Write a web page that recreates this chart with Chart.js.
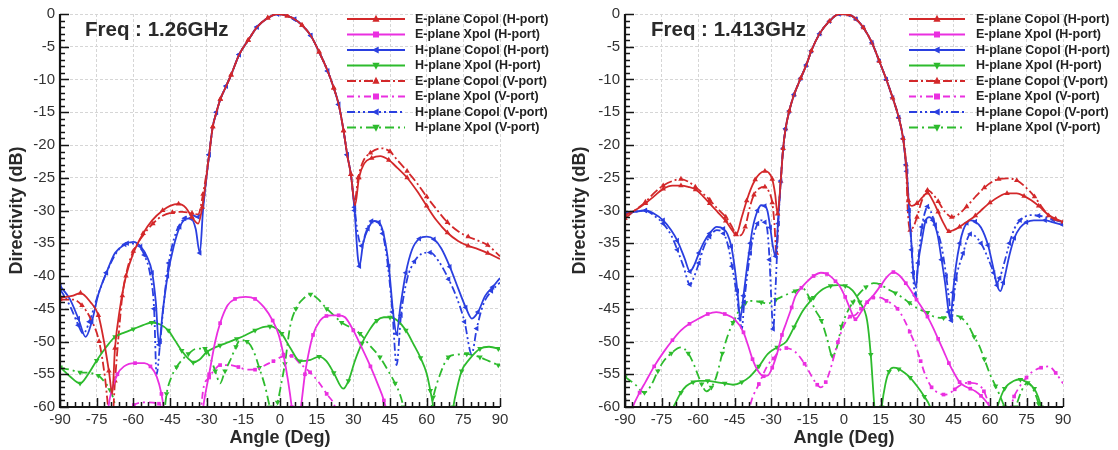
<!DOCTYPE html>
<html>
<head>
<meta charset="utf-8">
<script src="https://cdn.jsdelivr.net/npm/chart.js@4.4.0/dist/chart.umd.min.js"></script>
<style>
  html, body { margin: 0; padding: 0; background: #fff; }
  #wrap { width: 1118px; height: 450px; display: flex; }
  canvas { display: block; }
</style>
</head>
<body>
<div id="wrap">
  <canvas id="c126" width="559" height="450"></canvas>
  <canvas id="c1413" width="559" height="450"></canvas>
</div>
<script>
// ---- data: [angle (deg), directivity (dB)] ----
const seriesNames = [
    'E-plane Copol (H-port)', 'E-plane Xpol (H-port)', 'H-plane Copol (H-port)', 'H-plane Xpol (H-port)',
    'E-plane Copol (V-port)', 'E-plane Xpol (V-port)', 'H-plane Copol (V-port)', 'H-plane Xpol (V-port)'
];
const xTicks = [-90, -75, -60, -45, -30, -15, 0, 15, 30, 45, 60, 75, 90];
const yTicks = [-60, -55, -50, -45, -40, -35, -30, -25, -20, -15, -10, -5, 0];

// 1.26 GHz
const beam126 = [[-29,-21.5],[-27.5,-17.2],[-26,-15],[-24.4,-13],[-22,-11],[-20,-9.3],[-16.7,-6.2],[-13,-4],[-9.4,-2],[-5,-0.6],[-1,0],[3,-0.3],[6,-0.8],[9,-1.7],[12.6,-3.3],[16,-5.8],[19.5,-8.7],[22,-11.3],[24,-13.8],[26,-17.8],[27.5,-21.5]];
const eCoH126L = [[-90,-43.3],[-84.6,-43],[-81.6,-42.6],[-77.5,-44],[-74.3,-46],[-72,-50],[-70,-54.5],[-68.6,-58],[-67.5,-51],[-65.5,-45],[-63,-40],[-60,-36.5],[-56,-33.5],[-52.3,-31.5],[-48,-30],[-45,-29.3],[-41.5,-29],[-38.5,-29.6],[-36,-31],[-33.5,-32],[-31.8,-29.5]];
const eCoH126R = [[29,-24.5],[30.7,-29.2],[32.3,-25],[34.5,-22.8],[37.5,-22],[41,-21.7],[44.5,-22.3],[48,-23.5],[52,-25],[56,-27],[60,-29.3],[64,-31.5],[68.5,-33.4],[73,-34.7],[77,-35.4],[81,-35.9],[85,-36.5],[90,-37.4]];
const eCoV126L = [[-90,-43.6],[-84.6,-43.6],[-81,-44.5],[-77.5,-46.5],[-74,-50],[-71.6,-55.5],[-70,-61],[-68.8,-63],[-67.5,-56],[-66,-49],[-64.5,-43],[-62.5,-39],[-60,-36.2],[-56,-33.8],[-52,-32],[-48,-30.8],[-44,-30.3],[-40,-30.2],[-36,-30.4],[-33.5,-30.6],[-31.5,-27.5]];
const eCoV126R = [[29,-24.5],[30.5,-28.6],[32,-25],[34,-22.5],[37,-21.2],[41.5,-20.5],[45,-21],[48,-22.3],[52,-24],[56,-25.8],[60,-27.9],[64,-29.8],[68.5,-31.8],[73,-33.2],[77,-34],[81,-34.6],[85,-35.3],[90,-37]];
const hCoH126L = [[-90,-41.5],[-86,-43.5],[-82.5,-46.5],[-79.5,-49.3],[-77,-47],[-74.3,-42.8],[-71,-39.5],[-67.5,-36.5],[-63.5,-35.2],[-60,-34.8],[-57,-35.5],[-54.5,-37],[-52.3,-39.5],[-50.8,-44],[-49.5,-50.5],[-48,-45.5],[-46,-40],[-43.5,-35.5],[-41,-32.5],[-38.5,-31.3],[-36.5,-31.2],[-34.5,-32.8],[-32.8,-36.5],[-31.5,-30]];
const hCoH126R = [[29,-24.5],[30.5,-30],[31.8,-37],[32.5,-38.5],[34,-35],[36,-32.8],[38.5,-31.6],[40.5,-31.8],[42.5,-33.8],[44.5,-38.5],[46.4,-46],[47.7,-48.8],[49.3,-44.5],[51.5,-39.5],[54,-36],[57,-34.3],[60,-34],[63,-34.4],[66,-35.8],[69.5,-38.6],[73,-42],[76,-44.8],[78.5,-46.5],[81,-45.5],[84,-43],[87,-41.7],[90,-40.3]];
const hCoV126L = [[-90,-42],[-86,-44.5],[-82.5,-47.5],[-80.5,-48.8],[-78,-47],[-75,-43.5],[-71,-39.5],[-67,-36.5],[-62.5,-35],[-58.5,-35.3],[-55.5,-36.8],[-53,-40],[-51.5,-45],[-50.5,-55],[-49,-50],[-47.5,-44],[-45.5,-38],[-42.5,-33.3],[-39,-31.2],[-36,-30.7],[-33.5,-31],[-31.5,-29]];
const hCoV126R = [[29,-24.5],[30.5,-29.5],[31.8,-33.5],[33.4,-35.4],[35,-33.5],[37.5,-31.6],[40,-31.8],[42,-33.5],[44,-38],[46,-45.5],[47.7,-53.6],[49.5,-46],[52,-40.5],[55,-37.8],[58,-36.6],[61.4,-36.4],[65,-37.8],[69,-40.5],[72.5,-43.5],[75.5,-47],[78.4,-51.9],[80.5,-48],[83.2,-44.3],[86.5,-42.3],[90,-41]];
const eXH126 = [[-90,-72],[-74,-68],[-71,-62],[-69.5,-58.5],[-66.5,-55],[-63.8,-53.8],[-59.3,-53.3],[-55.5,-53.3],[-53,-53.8],[-50.4,-55.4],[-48.5,-58],[-47,-61.5],[-44,-67],[-36,-69],[-32.5,-63],[-31,-59],[-29,-55],[-26.5,-50],[-24.5,-47.2],[-21.5,-44.5],[-18.4,-43.5],[-14,-43.2],[-10.2,-43.5],[-6.5,-44.8],[-3,-46.8],[-0.5,-49],[1.4,-52],[3.3,-56],[4.8,-60],[6,-64],[7.5,-63],[8.9,-59],[10.2,-55],[11.6,-52],[13.5,-49],[16.4,-46.8],[19,-46.1],[21.2,-46],[24,-46],[26.6,-46.3],[30,-48.3],[33.4,-50.9],[37,-53.8],[40.2,-56.7],[42.5,-59],[44.5,-62],[48,-68],[90,-72]];
const eXV126 = [[-90,-72],[-68,-68],[-64,-63],[-62,-60.8],[-59.8,-59.7],[-55,-59.3],[-49.5,-59.5],[-47.5,-61],[-45,-66],[-38,-69],[-33,-63],[-31.4,-57.3],[-29,-55.5],[-26.5,-54.2],[-24.5,-53.6],[-20.5,-53.6],[-17,-53.9],[-13.5,-54.3],[-10.2,-54.3],[-6.5,-53.7],[-2.7,-53],[1,-52.3],[4.8,-52.2],[8,-53.3],[12.3,-54.7],[16,-56.3],[19.1,-58],[22.5,-60],[25,-64],[30,-70],[90,-72]];
const hXH126 = [[-90,-53.9],[-86,-55.3],[-81.8,-56.4],[-78.5,-55],[-75,-52.9],[-71,-50.8],[-67.5,-49.3],[-63.5,-48.6],[-60,-48.1],[-56,-47.5],[-52.5,-47.1],[-49,-47.4],[-45.7,-48.3],[-43,-49.8],[-40.2,-51.4],[-37.5,-52.6],[-35.5,-53.2],[-33,-52.8],[-30,-51.6],[-27,-51],[-24.5,-50.6],[-21,-50.1],[-17.7,-49.6],[-14,-49],[-10.2,-48.3],[-7,-47.8],[-4.1,-47.7],[-1.5,-48],[0.7,-48.8],[4.1,-50.9],[8.2,-53],[12.5,-52.8],[16,-52.3],[19,-53],[22,-54.8],[25.9,-57.2],[28,-56],[30.7,-52.9],[33.5,-50.3],[36.5,-48.3],[39.6,-46.8],[42.5,-46.3],[45,-46.3],[48,-46.8],[51.5,-48.3],[54.6,-50.4],[57.5,-52.5],[60,-54.9],[61.5,-57.5],[62.7,-60],[64.5,-66],[69,-66],[70.9,-60],[72.5,-57],[74.3,-54.5],[77.5,-52.7],[81.8,-51.1],[85.5,-50.8],[89.3,-51.1],[90,-51.2]];
const hXV126 = [[-90,-54],[-86,-54.3],[-81.8,-54.7],[-78,-54.8],[-74.3,-55.2],[-71.5,-56.3],[-69.5,-57.4],[-67.5,-59.7],[-66,-63],[-60,-68],[-52,-68],[-48,-63],[-46.4,-58],[-44.5,-55.5],[-42.3,-53.9],[-39.5,-52.6],[-37.5,-51.9],[-34.1,-51.1],[-30.7,-51.1],[-28.5,-52.5],[-26.5,-54.5],[-24.5,-56.4],[-22.5,-54.5],[-20.4,-52.9],[-18,-50.8],[-16.4,-49.8],[-13.5,-50],[-10.9,-51.4],[-8.5,-54],[-6,-57],[-4.1,-60],[-2.5,-61],[-1,-59.3],[0.5,-56.5],[2,-53.4],[4.1,-47.8],[6.5,-45],[9.5,-43.5],[12.5,-42.8],[15.5,-43.5],[19.1,-45],[22,-46],[25.2,-47.1],[29,-47.9],[32.7,-48.8],[36.5,-50.5],[40.9,-52.4],[44,-54.3],[47.1,-56.4],[49,-58],[50.5,-60],[53,-65],[58,-66],[61,-62],[62.7,-58.5],[65.5,-55],[68.9,-52.4],[72.5,-52],[76.4,-51.9],[79,-52.1],[81.8,-52.4],[85.5,-53],[89.3,-53.6],[90,-53.7]];

// 1.413 GHz
const beam1413 = [[-26,-25.5],[-25,-20.5],[-24,-17.5],[-22.5,-14.8],[-20.5,-12.3],[-17.8,-9.8],[-15.5,-7.8],[-13.4,-5.6],[-10,-3],[-6,-1.1],[-2,0],[2,-0.1],[5,-0.8],[8,-2.1],[11.5,-4.4],[14.5,-7.2],[17.4,-10],[20,-12.8],[22.5,-15.8],[24.3,-19],[25.5,-23]];
const eCoH1413L = [[-90,-30.7],[-86,-30],[-81.6,-28.9],[-78,-27.8],[-74.3,-26.7],[-70.5,-26.2],[-67,-26.2],[-64,-26.4],[-61,-26.8],[-58,-27.8],[-55.2,-28.9],[-52,-30.2],[-48.6,-31.6],[-46,-33],[-44.3,-33.7],[-42,-31],[-40,-28.5],[-38.4,-26.8],[-36.5,-25.3],[-34.7,-24.4],[-32.5,-24],[-31,-24.2],[-29.5,-25.2],[-28.3,-27.5],[-27.3,-30.5]];
const eCoH1413R = [[26.5,-28.5],[28,-29.3],[30,-28.9],[32.2,-28],[34.3,-27.3],[36.5,-28.5],[38.7,-30.2],[41,-32],[43.1,-33.2],[45,-33],[47.5,-32.5],[51,-31.6],[54,-30.8],[56.3,-30],[60,-28.8],[63.6,-27.9],[67,-27.4],[71,-27.4],[74,-27.8],[76.8,-28.4],[80,-29.3],[84.1,-30.7],[87,-31.3],[90,-31.7]];
const eCoV1413L = [[-90,-31.2],[-86,-30],[-81.6,-28.7],[-78,-27.3],[-74.3,-26.2],[-70.5,-25.5],[-67,-25.2],[-64,-25.6],[-61.1,-26.4],[-58,-27.4],[-55.2,-28.4],[-52,-29.7],[-48.6,-31],[-46,-32.5],[-44.5,-33.6],[-42.5,-33.8],[-40.6,-32.5],[-38.7,-29.5],[-37,-27.6],[-34.7,-26.6],[-32.5,-26.4],[-31,-27],[-29.5,-28.8],[-28.6,-32],[-27.8,-36.5],[-27,-31]];
const eCoV1413R = [[26.2,-30],[27.2,-33],[28.5,-32.5],[30,-31],[32,-28.5],[34.3,-26.9],[36.5,-27.5],[38.7,-28.6],[41.5,-30.2],[44.3,-31],[47,-30.6],[50.4,-29.4],[54,-27.9],[57.7,-26.5],[61,-25.6],[63.6,-25.2],[67,-25.1],[71,-25.4],[74.5,-26.4],[78.3,-27.9],[81,-29.3],[84.1,-30.8],[87,-31.4],[90,-31.8]];
const hCoH1413L = [[-90,-30.5],[-86,-30.2],[-81.6,-30],[-78,-30.5],[-74.3,-31.5],[-71,-33],[-68.5,-34.6],[-65.5,-37.3],[-63.3,-39.3],[-61.5,-38.3],[-59.6,-36.5],[-57.5,-34.8],[-55.2,-33.5],[-52.3,-32.5],[-49.5,-32.8],[-47.9,-33.6],[-46.3,-35.5],[-45,-38.5],[-43.8,-42.3],[-42.6,-46.4],[-41.3,-43],[-39.8,-38.5],[-38.5,-35],[-37.6,-32.8],[-35.5,-30],[-34,-29.2],[-32.5,-29.3],[-31.5,-30],[-30.3,-32.6],[-29.2,-35.5],[-28.1,-37],[-27,-31]];
const hCoH1413R = [[25.8,-24],[26.8,-30],[27.8,-35.5],[28.5,-39.5],[29.6,-41.6],[30.5,-38],[32,-34.5],[33.5,-31.6],[35,-31],[36.5,-31.5],[38.5,-33.8],[40.1,-37.5],[41.7,-41.5],[43,-45.5],[43.8,-46.6],[44.8,-42.5],[46,-38.5],[47.6,-35],[49,-33],[50.5,-31.9],[52,-31.5],[54,-31.7],[56.3,-32.6],[59.2,-35.3],[61.2,-38.5],[62.9,-41.4],[64.3,-42.3],[65.5,-41],[68,-36.8],[70,-34.2],[72.4,-32.6],[75,-31.8],[78,-31.5],[82.7,-31.5],[86,-31.8],[90,-32.2]];
const hCoV1413L = [[-90,-30.5],[-86,-30.2],[-81.6,-30],[-78,-30.8],[-74.3,-32],[-71,-33.8],[-68.5,-36],[-66,-38.5],[-63.3,-41.3],[-61.5,-40],[-59.6,-38],[-57.5,-35.5],[-55.2,-34],[-52.3,-33],[-49.5,-33.5],[-47.9,-35],[-46,-38.5],[-44.2,-42.6],[-42.8,-46.5],[-42,-48.1],[-41,-44],[-39.8,-40],[-38.5,-36.5],[-37.6,-34.5],[-35.5,-32],[-34,-31.5],[-32.5,-31.8],[-31.5,-33],[-30.6,-37.5],[-30,-42.6],[-29.1,-48.1],[-28.1,-41.6],[-27,-32]];
const hCoV1413R = [[25.8,-24],[26.8,-30],[27.8,-36],[28.5,-40.5],[29.3,-43],[30.3,-38.5],[32,-32.5],[33.5,-30],[34.3,-29.4],[35.5,-30],[37.5,-32.2],[40.1,-35.5],[42,-40],[43.3,-44],[44.1,-46.8],[45,-44],[46,-40.5],[47.5,-38.2],[49,-36.5],[50.5,-34.5],[51.9,-33.6],[53.5,-33.8],[56.3,-35],[59.2,-37.3],[61.5,-39.5],[62.9,-41],[64,-40.3],[66,-37.8],[68,-35],[70,-32.8],[72.4,-31.5],[76.8,-30.7],[80,-30.8],[82.7,-31],[86,-31.4],[90,-31.8]];
const eXH1413 = [[-90,-64],[-86.8,-60],[-84,-57.8],[-81.6,-56.2],[-78,-53.8],[-74.3,-51.7],[-70.5,-49.8],[-67,-48.3],[-63.5,-47.3],[-59.6,-46.5],[-56,-45.8],[-52.5,-45.5],[-49,-45.8],[-45,-46.6],[-41.3,-48.6],[-39.5,-50.5],[-37.6,-52.7],[-35.5,-54.4],[-33,-55.3],[-31.3,-55.2],[-29.5,-54],[-27.4,-51.7],[-25.5,-49],[-23.7,-47.1],[-21.5,-44.8],[-20,-43.1],[-17.5,-41.8],[-15.6,-41],[-12.5,-40],[-9.5,-39.5],[-7,-39.7],[-5.4,-40.1],[-3.5,-40.8],[-1.7,-41.6],[0.5,-43.2],[2.5,-45],[4.7,-46.6],[7,-45.5],[9.5,-44],[12,-43],[15,-41.5],[17.5,-40.2],[20.3,-39.4],[23,-40],[25.4,-41.1],[27.5,-42.2],[29.8,-43.6],[32,-44.8],[34.3,-46.2],[36.5,-47.8],[38.7,-49.6],[41,-51.5],[43.1,-53.3],[45.5,-55],[47.5,-56.2],[49.5,-56.8],[51.9,-57.2],[54,-57.6],[56.3,-58.3],[58.5,-59.2],[60.7,-60.5],[63,-63],[70,-66],[90,-68]];
const eXV1413 = [[-90,-70],[-44,-68],[-40,-62],[-38,-59],[-35,-56.5],[-31.3,-53.6],[-29,-52.6],[-26,-51.2],[-23.7,-51],[-20,-51.6],[-16.2,-53.4],[-13,-55.5],[-11,-56.6],[-9.5,-57],[-7.5,-56.2],[-5.4,-54],[-2.5,-50.1],[0,-47.5],[2.5,-46.2],[4.5,-46],[7,-45],[9.5,-44],[12,-43.3],[15,-43.3],[17.5,-43.8],[19.6,-44.2],[22,-45],[24.5,-46.5],[27,-48.5],[29.5,-50.7],[31.5,-53],[33.4,-55.1],[36,-57],[38.5,-57.8],[40.9,-58.1],[43,-58],[45.5,-57.3],[48.5,-56.5],[51.5,-56.3],[55.4,-56.6],[57.5,-57.6],[59.5,-59.5],[61.5,-61.5],[64,-62.5],[66.5,-61.5],[68.5,-60],[69.9,-58.4],[72,-57],[75,-55.5],[77.5,-54.6],[81,-54],[84.3,-53.8],[87,-54.8],[90,-56.4]];
const hXH1413 = [[-90,-68],[-75,-65],[-71.5,-61],[-69.4,-59.5],[-67,-57.8],[-64.8,-56.8],[-62,-56.2],[-59.3,-56],[-56,-56],[-52.5,-56.2],[-49,-56.4],[-45.6,-56.6],[-42,-56.2],[-38.8,-55.4],[-35,-53.8],[-31.3,-51.9],[-27.5,-50.9],[-23.7,-50],[-20.5,-47.8],[-16.9,-45.3],[-12.5,-43.3],[-8.6,-42],[-5.5,-41.5],[-2.5,-41.4],[0.5,-41.5],[3.5,-42.2],[6.5,-44],[9.5,-46.8],[11,-52],[12.3,-59],[13.5,-64],[14.5,-64],[15.5,-60],[17,-56.5],[18.5,-54.6],[20.3,-54],[22.5,-54.2],[25,-54.8],[27.2,-55.5],[30,-56.8],[33,-58.4],[35.4,-60],[38,-64],[50,-68],[60,-64],[63,-60],[66,-57.2],[69.9,-56],[72.5,-55.8],[75,-56.2],[78.2,-57.2],[79.8,-58.5],[81,-60],[83,-64],[90,-68]];
const hXV1413 = [[-90,-55.4],[-86,-56.5],[-82,-57.8],[-79,-56.5],[-76.5,-54.5],[-74.3,-53.1],[-71,-51.8],[-67.1,-50.9],[-64,-51.8],[-61.5,-53.7],[-58.5,-56.5],[-56.6,-57.6],[-54.5,-57],[-52.5,-55.4],[-50,-51.8],[-47.5,-48.8],[-45.6,-47.1],[-43,-45.2],[-40.5,-44.1],[-37.6,-43.8],[-34,-44],[-31.3,-44.2],[-28,-43.6],[-24,-42.9],[-20,-42.3],[-16.9,-41.9],[-14,-43.5],[-11.5,-45.4],[-9.3,-46.8],[-7,-49.5],[-4.8,-52.2],[-3,-51],[-1,-47.7],[1.5,-45.4],[3.7,-44],[6,-42.8],[9,-41.7],[12.2,-41.1],[15,-41.3],[18,-42],[21.1,-42.6],[24,-43.3],[26.9,-44.1],[30.5,-45],[34.3,-45.6],[37,-46.2],[40.9,-46.4],[44.5,-46],[47.9,-46.3],[51,-47.5],[53.5,-49.3],[55.4,-50.5],[57.7,-52.7],[60,-55],[62.3,-56.8],[64,-58.2],[66,-60],[68,-61.5],[70.5,-60],[73,-57.5],[75.5,-56.3],[78,-57.5],[80,-59.5],[82,-62],[90,-68]];

// ---- styles ----
const RED = '#d3282a', MAG = '#ea2fe0', BLUE = '#2a3fe0', GREEN = '#2dbb2d';
const styles = [
    { color: RED,   dash: [],                marker: 'triangle', rot: 0 },
    { color: MAG,   dash: [],                marker: 'rect',     rot: 0 },
    { color: BLUE,  dash: [],                marker: 'triangle', rot: -90 },
    { color: GREEN, dash: [],                marker: 'triangle', rot: 180 },
    { color: RED,   dash: [9, 3, 2, 3],      marker: 'triangle', rot: 0 },
    { color: MAG,   dash: [7, 4, 2, 4],      marker: 'rect',     rot: 0 },
    { color: BLUE,  dash: [8, 3, 2, 3, 2, 3], marker: 'triangle', rot: -90 },
    { color: GREEN, dash: [9, 4, 2, 4],      marker: 'triangle', rot: 180 }
];

const toPts = (arr) => arr.map(([x, y]) => ({ x, y }));

function buildDatasets(seriesList) {
    return seriesList.map((arr, i) => {
        const s = styles[i];
        return {
            label: seriesNames[i],
            data: toPts(arr),
            borderColor: s.color,
            backgroundColor: s.color,
            borderWidth: 1.8,
            borderDash: s.dash,
            pointStyle: s.marker,
            rotation: s.rot,
            pointRadius: (c) => (c.dataIndex % 2 === 0 && c.raw && c.raw.y >= -60.5) ? (s.marker === 'rect' ? 2.6 : 3.2) : 0,
            pointBorderWidth: 0,
            cubicInterpolationMode: 'monotone',
            clip: 0
        };
    });
}

function drawMarker(ctx, style, rot, x, y, r) {
    ctx.save();
    ctx.translate(x, y);
    ctx.rotate(rot * Math.PI / 180);
    ctx.beginPath();
    if (style === 'rect') {
        ctx.rect(-r, -r, 2 * r, 2 * r);
    } else {
        ctx.moveTo(0, -r * 1.15);
        ctx.lineTo(r, r * 0.75);
        ctx.lineTo(-r, r * 0.75);
        ctx.closePath();
    }
    ctx.fill();
    ctx.restore();
}

const frame = {
    id: 'frame',
    afterDraw(chart, args, opts) {
        const { ctx, chartArea: a, scales: { x, y } } = chart;
        ctx.save();
        ctx.strokeStyle = '#151515';
        ctx.lineWidth = 1.5;
        ctx.beginPath();
        for (let v = -90; v <= 90; v += 3) {
            const px = Math.round(x.getPixelForValue(v)) + 0.5;
            const len = v % 15 === 0 ? 9 : 5;
            ctx.moveTo(px, a.bottom);
            ctx.lineTo(px, a.bottom - len);
        }
        for (let v = -60; v <= 0; v += 1) {
            const py = Math.round(y.getPixelForValue(v)) + 0.5;
            const len = v % 5 === 0 ? 9 : 5;
            ctx.moveTo(a.left, py);
            ctx.lineTo(a.left + len, py);
        }
        ctx.stroke();
        ctx.lineWidth = 2.2;
        ctx.beginPath();
        ctx.moveTo(a.left, a.top);
        ctx.lineTo(a.left, a.bottom);
        ctx.lineTo(a.right, a.bottom);
        ctx.stroke();

        // frequency label
        ctx.fillStyle = '#2a2a2a';
        ctx.font = 'bold 20.5px "Liberation Sans", Arial, sans-serif';
        ctx.textBaseline = 'middle';
        ctx.textAlign = 'left';
        ctx.fillText(opts.freq, opts.freqX, 30);

        // legend
        ctx.font = 'bold 12.5px "Liberation Sans", Arial, sans-serif';
        chart.data.datasets.forEach((ds, i) => {
            const s = styles[i];
            const ly = 19 + i * 15.5;
            ctx.strokeStyle = s.color;
            ctx.fillStyle = s.color;
            ctx.lineWidth = 2;
            ctx.setLineDash(s.dash);
            ctx.beginPath();
            ctx.moveTo(opts.lineX0, ly);
            ctx.lineTo(opts.lineX1, ly);
            ctx.stroke();
            ctx.setLineDash([]);
            drawMarker(ctx, s.marker, s.rot, (opts.lineX0 + opts.lineX1) / 2, ly, s.marker === 'rect' ? 3 : 3.6);
            ctx.fillStyle = '#222';
            ctx.fillText(ds.label, opts.textX, ly + 0.5);
        });
        ctx.restore();
    }
};

function makePanel(id, seriesList, p) {
    new Chart(document.getElementById(id), {
        type: 'line',
        data: { datasets: buildDatasets(seriesList) },
        plugins: [frame],
        options: {
            responsive: false,
            animation: false,
            events: [],
            layout: { padding: { left: 0, right: p.padRight, top: 12, bottom: 0 } },
            plugins: {
                legend: { display: false },
                tooltip: { enabled: false },
                frame: p
            },
            scales: {
                x: {
                    type: 'linear',
                    min: -90, max: 90,
                    afterBuildTicks: (s) => { s.ticks = xTicks.map(v => ({ value: v })); },
                    afterFit: (s) => { s.height = 43; },
                    grid: { color: '#d6d6d6', lineWidth: 1, drawTicks: false },
                    border: { display: false, dash: [3, 2] },
                    ticks: { padding: 4, color: '#333', font: { family: '"Liberation Sans", Arial, sans-serif', size: 15 }, maxRotation: 0 },
                    title: { display: true, text: 'Angle (Deg)', color: '#2a2a2a', padding: { top: 0, bottom: 1 },
                        font: { family: '"Liberation Sans", Arial, sans-serif', size: 18, weight: 'bold' } }
                },
                y: {
                    type: 'linear',
                    min: -60, max: 0,
                    afterBuildTicks: (s) => { s.ticks = yTicks.map(v => ({ value: v })); },
                    afterFit: (s) => { s.width = p.yWidth; },
                    grid: { color: '#d6d6d6', lineWidth: 1, drawTicks: false },
                    border: { display: false, dash: [3, 2] },
                    ticks: { padding: 5, color: '#333', font: { family: '"Liberation Sans", Arial, sans-serif', size: 15 } },
                    title: { display: true, text: 'Directivity (dB)', color: '#2a2a2a', padding: { top: p.yTitlePad, bottom: 0 },
                        font: { family: '"Liberation Sans", Arial, sans-serif', size: 18, weight: 'bold' } }
                }
            }
        }
    });
}

makePanel('c126', [
    [...eCoH126L, ...beam126, ...eCoH126R], eXH126,
    [...hCoH126L, ...beam126, ...hCoH126R], hXH126,
    [...eCoV126L, ...beam126, ...eCoV126R], eXV126,
    [...hCoV126L, ...beam126, ...hCoV126R], hXV126
], { freq: 'Freq : 1.26GHz', freqX: 85, lineX0: 347, lineX1: 405, textX: 415, yWidth: 60, padRight: 59, yTitlePad: 6 });

makePanel('c1413', [
    [...eCoH1413L, ...beam1413, ...eCoH1413R], eXH1413,
    [...hCoH1413L, ...beam1413, ...hCoH1413R], hXH1413,
    [...eCoV1413L, ...beam1413, ...eCoV1413R], eXV1413,
    [...hCoV1413L, ...beam1413, ...hCoV1413R], hXV1413
], { freq: 'Freq : 1.413GHz', freqX: 92, lineX0: 350, lineX1: 406, textX: 417, yWidth: 66, padRight: 55, yTitlePad: 10 });
</script>
</body>
</html>
